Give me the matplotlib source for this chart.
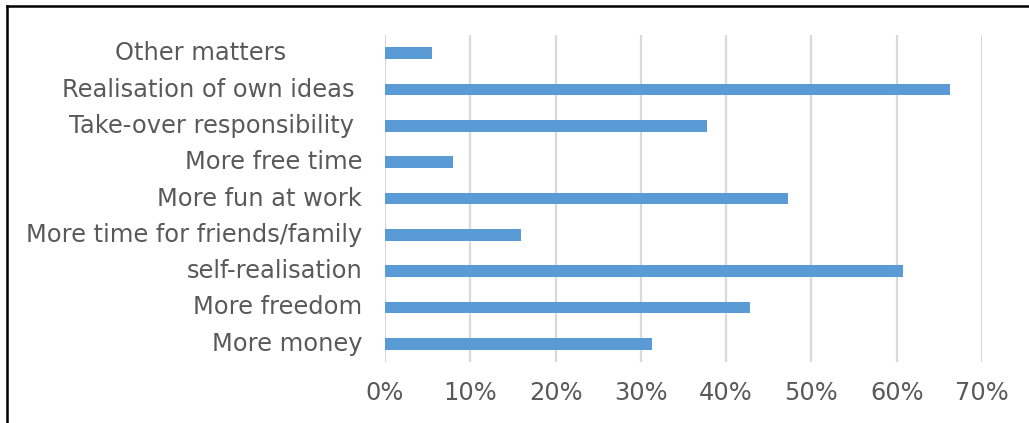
import matplotlib
matplotlib.use("Agg")
import matplotlib.pyplot as plt
from matplotlib.lines import Line2D
from matplotlib.ticker import PercentFormatter
from matplotlib.transforms import ScaledTranslation

# Motives, listed bottom to top
categories = [
    "More money",
    "More freedom",
    "self-realisation",
    "More time for friends/family",
    "More fun at work",
    "More free time",
    "Take-over responsibility ",
    "Realisation of own ideas ",
    "Other matters" + " " * 10,
]
shares = [0.313, 0.428, 0.607, 0.159, 0.473, 0.080, 0.378, 0.662, 0.055]
x_ticks = [0.0, 0.1, 0.2, 0.3, 0.4, 0.5, 0.6, 0.7]

BAR = "#5b9bd5"
GRID = "#d9d9d9"
TEXT = "#595959"

fig = plt.figure(figsize=(10.29, 4.23), dpi=100)
ax = fig.add_axes([385 / 1029, 61 / 423, 597 / 1029, 327 / 423])

ypos = list(range(len(categories)))
ax.barh(ypos, shares, height=0.32, color=BAR, zorder=3)

ax.set_xlim(0, 0.7)
ax.set_ylim(-0.5, len(categories) - 0.5)
ax.set_xticks(x_ticks)
ax.xaxis.set_major_formatter(PercentFormatter(1.0, decimals=0))
ax.set_yticks(ypos)
ax.set_yticklabels(categories)

ax.grid(axis="x", color=GRID, linewidth=1.6, zorder=0)
for s in ax.spines.values():
    s.set_visible(False)
ax.tick_params(axis="both", length=0, labelsize=17.4, labelcolor=TEXT)
ax.tick_params(axis="x", pad=14)
ax.tick_params(axis="y", pad=16.5)

# Nudge category labels up so they sit level with their bars
lift = ScaledTranslation(0, 2.5 / 100, fig.dpi_scale_trans)
for lbl in ax.get_yticklabels():
    lbl.set_transform(lbl.get_transform() + lift)

# Outer frame (left and top edges)
fig.add_artist(Line2D([7 / 1029, 7 / 1029], [0, 1 - 6 / 423],
                      transform=fig.transFigure, color="black", linewidth=1.8))
fig.add_artist(Line2D([7 / 1029, 1], [1 - 6 / 423, 1 - 6 / 423],
                      transform=fig.transFigure, color="black", linewidth=1.8))

fig.savefig("out.png", dpi=100)
